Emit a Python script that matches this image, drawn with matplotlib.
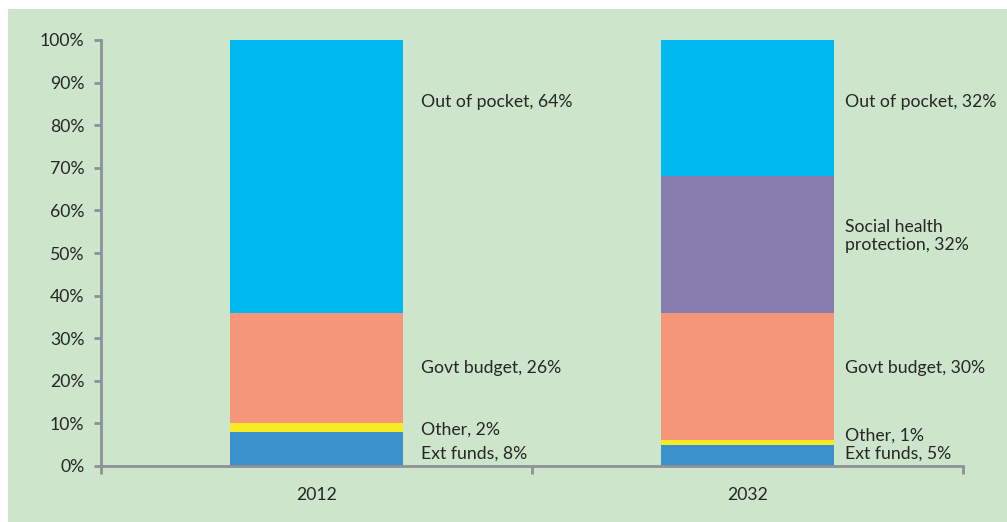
import numpy as np
import matplotlib.pyplot as plt
from matplotlib.patches import Rectangle

plt.rcParams['font.family'] = ['Lato', 'DejaVu Sans']

# Data
years = ['2012', '2032']
ext_funds = [8, 5]
other = [2, 1]
govt_budget = [26, 30]
social_health = [0, 32]
out_of_pocket = [64, 32]

series = [
    ('Ext funds', ext_funds, '#3a91cb'),
    ('Other', other, '#f8ea23'),
    ('Govt budget', govt_budget, '#f5967a'),
    ('Social health\nprotection', social_health, '#877cae'),
    ('Out of pocket', out_of_pocket, '#00b9f0'),
]

# label heights (in %), chosen to mimic the original placement
label_y = {
    'Ext funds': [2.8, 2.8],
    'Other': [8.5, 7.2],
    'Govt budget': [23, 23],
    'Social health\nprotection': [None, 54],
    'Out of pocket': [85.4, 85.4],
}
label_gap = [0.042, 0.026]  # distance from bar edge to label

fig = plt.figure(figsize=(10.07, 5.22), dpi=100)
fig.patch.set_facecolor('white')
fig.add_artist(Rectangle((8 / 1007, 0), 1, (522 - 9) / 522, transform=fig.transFigure,
                         facecolor='#cde5ca', edgecolor='none', zorder=-1))

ax = fig.add_axes([101 / 1007, (522 - 466) / 522, (963 - 101) / 1007, 426 / 522])
ax.set_facecolor('none')

x = np.arange(len(years))
bottom = np.zeros(len(years))
text_color = '#262626'
for name, vals, col in series:
    vals = np.array(vals, dtype=float)
    ax.bar(x, vals, width=0.4, bottom=bottom, color=col, edgecolor='none', zorder=2)
    for i, v in enumerate(vals):
        if v > 0 and label_y[name][i] is not None:
            ax.text(x[i] + 0.2 + label_gap[i], label_y[name][i], f'{name}, {int(v)}%',
                    va='center', ha='left', fontsize=12.7, color=text_color,
                    linespacing=1.12, clip_on=False)
    bottom += vals

ax.set_xlim(-0.5, 1.5)
ax.set_ylim(0, 100)
ax.set_yticks(np.arange(0, 101, 10))
ax.set_yticklabels([f'{v}%' for v in range(0, 101, 10)])
ax.set_xticks(x)
ax.set_xticklabels(years)
ax.set_xticks([-0.5, 0.5, 1.5], minor=True)

gray = '#8e9196'
for s in ['top', 'right']:
    ax.spines[s].set_visible(False)
for s in ['left', 'bottom']:
    ax.spines[s].set_color(gray)
    ax.spines[s].set_linewidth(2)
ax.tick_params(axis='y', colors=gray, labelcolor=text_color, labelsize=12.7, length=5, width=2, pad=7)
ax.tick_params(axis='x', which='major', length=0, labelcolor=text_color, labelsize=12.7, pad=15)
ax.tick_params(axis='x', which='minor', colors=gray, length=6, width=2)

fig.savefig('out.png', dpi=100, facecolor=fig.get_facecolor())
